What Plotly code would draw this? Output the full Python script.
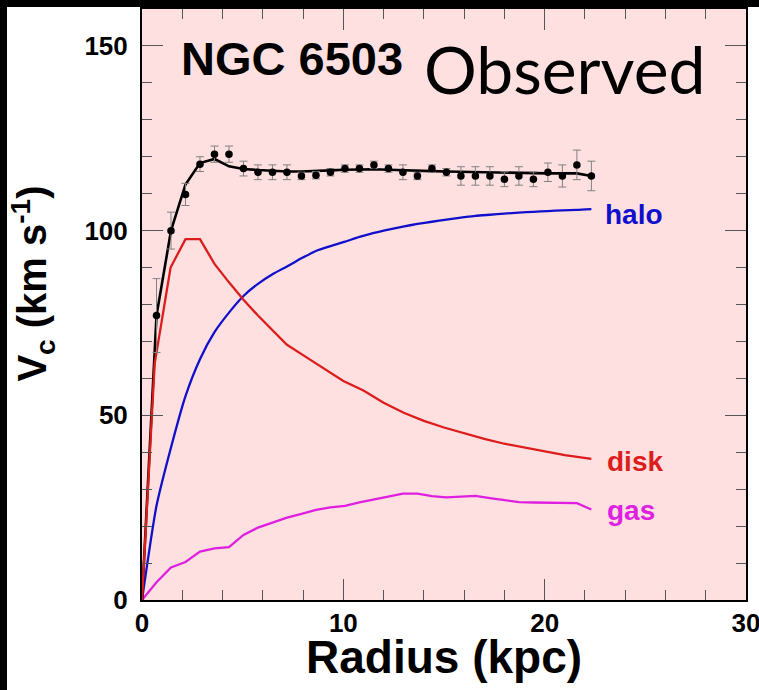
import plotly.graph_objects as go

# ---- data ----
radius_obs = [0.72, 1.44, 2.16, 2.88, 3.60, 4.32, 5.04, 5.76, 6.48, 7.20, 7.92,
              8.64, 9.36, 10.08, 10.80, 11.52, 12.24, 12.96, 13.68, 14.40, 15.12,
              15.84, 16.56, 17.28, 18.00, 18.72, 19.44, 20.16, 20.88, 21.60, 22.32]
v_obs = [77.0, 100.0, 109.8, 118.0, 120.7, 120.7, 116.8, 115.8, 115.8, 115.8, 114.8,
         115.0, 115.8, 116.8, 116.8, 117.8, 116.8, 115.8, 114.8, 116.8, 115.8,
         114.8, 114.8, 114.8, 113.9, 114.8, 113.9, 115.8, 114.8, 117.8, 114.8]
v_err = [10.0, 5.0, 3.0, 2.0, 2.2, 2.2, 2.0, 2.0, 2.0, 2.0, 1.0,
         1.0, 1.0, 1.0, 1.0, 1.0, 1.0, 2.0, 1.0, 1.0, 1.0,
         2.5, 2.5, 2.5, 2.0, 2.5, 2.0, 2.5, 3.0, 4.0, 4.0]

radius_fit = [0, 0.62, 0.72, 1.44, 2.16, 2.88, 3.60, 4.32, 5.04, 5.76, 6.48, 7.20, 7.92,
              8.64, 9.36, 10.08, 10.80, 11.52, 12.24, 12.96, 13.68, 14.40, 15.12,
              15.84, 16.56, 17.28, 18.00, 18.72, 19.44, 20.16, 20.88, 21.60, 22.32]
v_fit = [0, 64.0, 77.0, 100.0, 112.5, 118.3, 119.4, 117.4, 116.7, 116.4, 116.2, 116.0, 116.0,
         116.1, 116.3, 116.5, 116.6, 116.6, 116.5, 116.3, 116.2, 116.1, 116.0,
         115.9, 115.9, 115.8, 115.7, 115.6, 115.6, 115.5, 115.5, 115.5, 114.8]

radius_disk = [0, 0.63, 1.42, 2.16, 2.88, 3.6, 4.32, 5.04, 5.76, 6.48, 7.2, 8.0, 9.0,
               10.0, 11.0, 12.0, 13.0, 14.0, 15.0, 16.0, 17.0, 18.0, 19.0, 20.0, 21.0, 22.32]
v_disk = [0, 64.0, 90.0, 97.7, 97.7, 91.0, 86.0, 81.3, 77.0, 73.0, 69.1, 66.3, 62.8,
          59.3, 56.7, 53.4, 50.7, 48.5, 46.7, 45.1, 43.6, 42.3, 41.2, 40.1, 39.2, 38.2]

radius_model = [0] + radius_obs
v_halo = [0, 25.5, 41.3, 55.2, 65.2, 72.5, 77.8, 82.3, 85.6, 88.2, 90.3, 92.5,
          94.5, 95.8, 97.0, 98.3, 99.4, 100.3, 101.1, 101.8, 102.4, 103.0,
          103.5, 104.0, 104.3, 104.6, 104.9, 105.1, 105.3, 105.5, 105.6, 105.8]
v_gas = [0, 4.8, 8.8, 10.3, 13.1, 14.0, 14.3, 17.6, 19.6, 20.9, 22.3, 23.3,
         24.4, 25.1, 25.5, 26.4, 27.2, 28.0, 28.8, 28.8, 28.1, 27.8,
         28.1, 28.2, 27.6, 27.0, 26.5, 26.4, 26.3, 26.3, 26.2, 24.5]

labels = ["halo", "disk", "gas"]
label_x = [22.9, 23.0, 23.0]
label_y = [104.5, 37.6, 24.2]

BLUE = "#1010cc"
RED = "#dd1c1c"
MAG = "#e020e0"
label_colors = [BLUE, RED, MAG]

fig = go.Figure()

fig.add_trace(go.Scatter(x=radius_model, y=v_gas, mode="lines",
                         line=dict(color=MAG, width=2.3), showlegend=False))
fig.add_trace(go.Scatter(x=radius_model, y=v_halo, mode="lines",
                         line=dict(color=BLUE, width=2.3, shape="spline", smoothing=0.6),
                         showlegend=False))
fig.add_trace(go.Scatter(x=radius_fit, y=v_fit, mode="lines",
                         line=dict(color="black", width=2.6), showlegend=False))
fig.add_trace(go.Scatter(x=radius_disk, y=v_disk, mode="lines",
                         line=dict(color=RED, width=2.3), showlegend=False))
fig.add_trace(go.Scatter(x=radius_obs, y=v_obs, mode="markers",
                         marker=dict(color="black", size=7.5),
                         error_y=dict(type="data", array=v_err, color="#808080",
                                      thickness=1, width=4),
                         showlegend=False))

for t, xx, yy, c in zip(labels, label_x, label_y, label_colors):
    fig.add_annotation(x=xx, y=yy, text=t, showarrow=False, xanchor="left",
                       yanchor="middle",
                       font=dict(family="Liberation Sans", size=28, color=c, weight="bold"))

fig.add_annotation(xref="paper", yref="paper", x=0.061, y=0.917, text="NGC 6503",
                   showarrow=False, xanchor="left", yanchor="middle",
                   font=dict(family="Liberation Sans", size=47, color="black", weight="bold"))
fig.add_annotation(xref="paper", yref="paper", x=0.463, y=0.90, text="Observed",
                   showarrow=False, xanchor="left", yanchor="middle",
                   font=dict(family="Lato", size=66, color="black"))

# axis titles
fig.add_annotation(xref="paper", yref="paper", x=0.5, y=-0.096, text="Radius (kpc)",
                   showarrow=False, xanchor="center", yanchor="middle",
                   font=dict(family="Liberation Sans", size=46, color="black", weight="bold"))
fig.add_annotation(xref="paper", yref="paper", x=-0.182, y=0.5355,
                   text="V<sub>c</sub> (km s<sup>-1</sup>)", textangle=-90,
                   showarrow=False, xanchor="center", yanchor="middle",
                   font=dict(family="Liberation Sans", size=40, color="black", weight="bold"))

# black frame strips of the original picture
fig.add_shape(type="rect", xref="paper", yref="paper", x0=-0.236, x1=1.03,
              y0=1.0034, y1=1.02, fillcolor="black", line_width=0, layer="above")
fig.add_shape(type="rect", xref="paper", yref="paper", x0=-0.236, x1=-0.2235,
              y0=-0.16, y1=1.02, fillcolor="black", line_width=0, layer="above")

tickfont = dict(family="Liberation Sans", size=26, color="black", weight="bold")
fig.update_xaxes(range=[0, 30], dtick=10, tick0=0, ticks="inside", ticklen=21,
                 tickcolor="#555555", tickwidth=1, showline=True, linecolor="black",
                 linewidth=2, mirror="ticks", showgrid=False, zeroline=False,
                 tickfont=tickfont, ticklabelstandoff=-1, ticklabeloverflow="allow",
                 automargin=False,
                 minor=dict(dtick=2, ticks="inside", ticklen=10, tickcolor="#555555",
                            tickwidth=1, showgrid=False))
fig.update_yaxes(range=[0, 160], dtick=50, tick0=0, ticks="inside", ticklen=21,
                 tickcolor="#555555", tickwidth=1, showline=True, linecolor="black",
                 linewidth=2, mirror="ticks", showgrid=False, zeroline=False,
                 tickfont=tickfont, ticklabelstandoff=7, automargin=False,
                 minor=dict(dtick=10, ticks="inside", ticklen=10, tickcolor="#555555",
                            tickwidth=1, showgrid=False))

fig.update_layout(width=759, height=690,
                  margin=dict(l=142, r=13, t=9, b=90, pad=0, autoexpand=False),
                  plot_bgcolor="#ffe0e0", paper_bgcolor="white",
                  showlegend=False)

fig.write_html("out.html")
